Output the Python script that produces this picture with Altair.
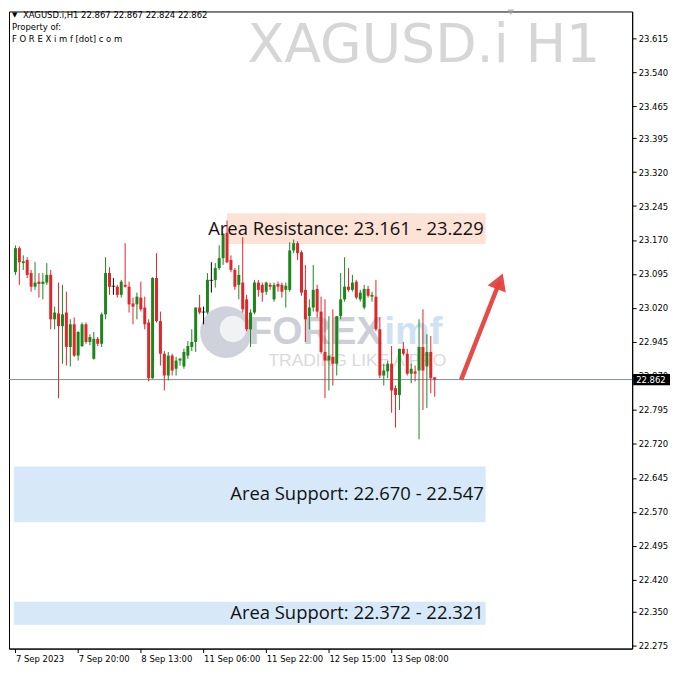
import altair as alt
import pandas as pd

# ---------------- data ----------------
opens = [23.099, 23.152, 23.119, 23.126, 23.097, 23.067, 23.078, 23.073, 23.076, 23.093,
         22.995, 23.008, 22.980, 23.010, 22.934, 22.984, 22.915, 22.936, 22.984, 22.945,
         22.908, 22.952, 22.941, 23.006, 23.097, 23.068, 23.067, 23.049, 23.071, 23.067,
         23.030, 23.028, 23.043, 23.021, 22.988, 22.865, 23.086, 22.991, 22.919, 22.871,
         22.915, 22.886, 22.904, 22.891, 22.915, 22.934, 22.945, 23.021, 23.011, 23.010,
         23.081, 23.082, 23.108, 23.130, 23.186, 23.126, 23.104, 23.071, 23.076, 23.039,
         22.973, 23.010, 23.076, 23.071, 23.056, 23.071, 23.039, 23.073, 23.071, 23.060,
         23.060, 23.147, 23.163, 23.143, 23.060, 23.002, 23.021, 23.062, 23.012, 22.923,
         22.904, 22.912, 22.897, 23.002, 23.039, 23.067, 23.060, 23.078, 23.039, 23.021,
         23.062, 23.045, 23.045, 22.973, 22.871, 22.880, 22.897, 22.843, 22.828, 22.930,
         22.919, 22.875, 22.880, 22.882, 22.934, 22.891, 22.923, 22.867]
highs = [23.158, 23.156, 23.136, 23.132, 23.104, 23.121, 23.097, 23.097, 23.119, 23.104,
         23.023, 23.076, 23.071, 23.056, 22.995, 22.999, 22.969, 22.988, 22.988, 22.962,
         22.967, 22.956, 23.010, 23.132, 23.110, 23.086, 23.071, 23.082, 23.163, 23.078,
         23.043, 23.054, 23.078, 23.045, 22.995, 23.088, 23.141, 23.012, 22.925, 22.923,
         22.919, 22.912, 22.910, 22.930, 22.947, 22.973, 23.021, 23.049, 23.023, 23.097,
         23.121, 23.119, 23.158, 23.184, 23.213, 23.136, 23.108, 23.115, 23.176, 23.049,
         23.017, 23.082, 23.082, 23.076, 23.078, 23.076, 23.076, 23.078, 23.076, 23.076,
         23.165, 23.171, 23.167, 23.147, 23.115, 23.039, 23.115, 23.071, 23.045, 23.039,
         23.002, 23.017, 23.002, 23.097, 23.132, 23.108, 23.093, 23.082, 23.060, 23.071,
         23.069, 23.056, 23.082, 22.999, 22.897, 22.904, 22.936, 22.849, 22.930, 22.945,
         22.930, 22.897, 22.893, 22.995, 23.017, 22.962, 22.958, 22.867]
lows = [23.093, 23.071, 23.104, 23.086, 23.056, 23.060, 23.043, 23.039, 23.071, 22.973,
        22.973, 22.821, 22.897, 22.893, 22.891, 22.912, 22.904, 22.934, 22.941, 22.938,
        22.906, 22.936, 22.934, 22.995, 23.049, 23.049, 23.043, 23.043, 23.065, 23.010,
        22.984, 22.995, 23.012, 22.973, 22.858, 22.864, 22.988, 22.893, 22.838, 22.860,
        22.871, 22.871, 22.893, 22.886, 22.908, 22.925, 22.923, 23.006, 22.984, 23.006,
        23.054, 23.065, 23.104, 23.115, 23.119, 23.099, 23.060, 23.039, 23.010, 22.969,
        22.934, 23.006, 23.045, 23.034, 23.049, 23.060, 23.034, 23.056, 23.043, 23.021,
        23.056, 23.141, 23.126, 23.047, 22.945, 22.973, 23.012, 22.999, 22.919, 22.821,
        22.838, 22.849, 22.871, 22.995, 23.034, 23.056, 23.056, 23.039, 23.034, 23.017,
        23.043, 23.034, 22.969, 22.865, 22.849, 22.865, 22.789, 22.756, 22.795, 22.915,
        22.871, 22.854, 22.858, 22.730, 22.795, 22.799, 22.832, 22.824]
closes = [23.152, 23.121, 23.123, 23.093, 23.067, 23.076, 23.073, 23.078, 23.093, 22.995,
          23.010, 22.980, 23.006, 22.934, 22.984, 22.915, 22.967, 22.984, 22.945, 22.956,
          22.952, 22.941, 23.006, 23.097, 23.067, 23.068, 23.049, 23.078, 23.067, 23.028,
          23.023, 23.045, 23.017, 22.984, 22.865, 23.086, 22.991, 22.919, 22.871, 22.915,
          22.882, 22.904, 22.908, 22.923, 22.936, 22.945, 23.021, 23.010, 23.011, 23.082,
          23.081, 23.108, 23.130, 23.184, 23.121, 23.104, 23.067, 23.093, 23.017, 22.973,
          23.010, 23.076, 23.060, 23.054, 23.076, 23.067, 23.071, 23.067, 23.056, 23.069,
          23.147, 23.163, 23.141, 23.054, 22.995, 23.021, 23.060, 23.012, 22.923, 22.904,
          22.915, 22.897, 23.002, 23.039, 23.067, 23.060, 23.076, 23.043, 23.054, 23.062,
          23.047, 23.049, 22.973, 22.871, 22.882, 22.897, 22.838, 22.828, 22.930, 22.919,
          22.875, 22.886, 22.875, 22.934, 22.882, 22.923, 22.865, 22.862]

tick_idx = [0, 16, 32, 48, 64, 80, 96]
tick_labels = ["7 Sep 2023", "7 Sep 20:00", "8 Sep 13:00", "11 Sep 06:00",
               "11 Sep 22:00", "12 Sep 15:00", "13 Sep 08:00"]

price_ticks = [23.615, 23.540, 23.465, 23.395, 23.320, 23.245, 23.170, 23.095, 23.020,
               22.945, 22.870, 22.795, 22.720, 22.645, 22.570, 22.495, 22.420, 22.350, 22.275]

zone_labels = ["Area Resistance: 23.161 - 23.229",
               "Area Support: 22.670 - 22.547",
               "Area Support: 22.372 - 22.321"]
zone_low = [23.161, 22.547, 22.321]
zone_high = [23.229, 22.670, 22.372]
zone_start = [54, -0.375, -0.375]
zone_end = [120, 120, 120]
zone_colors = ["#fde3d5", "#d7e9f9", "#d7e9f9"]

last_price = 22.862
header = "XAGUSD.i,H1  22.867 22.867 22.824 22.862"

arrow_x = [113.75, 123.6]
arrow_y = [22.862, 23.079]
arrow_head_x = [123.6]
arrow_head_y = [23.079]

# ---------------- frames ----------------
def direction(o, c):
    if c > o:
        return "up"
    if c < o:
        return "down"
    return "doji"

candles = pd.DataFrame({
    "idx": list(range(len(opens))),
    "open": opens, "high": highs, "low": lows, "close": closes,
})
candles["dir"] = [direction(o, c) for o, c in zip(opens, closes)]

zones = pd.DataFrame({"x1": zone_start, "x2": zone_end, "lo": zone_low,
                      "hi": zone_high, "col": zone_colors, "label": zone_labels})
zones["mid"] = (zones["lo"] + zones["hi"]) / 2

price_df = pd.DataFrame({"price": [last_price], "lo": [last_price - 0.0125],
                         "hi": [last_price + 0.0125], "txt": [f"{last_price:.3f}"]})
arrow_df = pd.DataFrame({"x": arrow_x, "y": arrow_y})
head_df = pd.DataFrame({"x": arrow_head_x, "y": arrow_head_y})
one = pd.DataFrame({"a": [0]})

W, H = 626, 640
xs = alt.Scale(domain=[-0.375, 156.125], nice=False, zero=False)
ys = alt.Scale(domain=[22.2684, 23.6743], nice=False, zero=False)

label_expr = ("[" + ",".join(f"'{t}'" for t in tick_labels) + "][indexof(["
              + ",".join(str(i) for i in tick_idx) + "], datum.value)]")

x_axis = alt.Axis(values=tick_idx, labelExpr=label_expr, title=None, grid=False,
                  labelAlign="left", labelFont="DejaVu Sans", labelFontSize=8.5,
                  labelColor="black", tickColor="black", tickSize=4, domainColor="black",
                  labelPadding=2, labelOverlap=False, labelFlush=False)
y_axis = alt.Axis(orient="right", values=price_ticks, format=".3f", title=None, grid=False,
                  labelFont="DejaVu Sans", labelFontSize=8.5, labelColor="black",
                  tickColor="black", tickSize=4, domainColor="black", labelPadding=2,
                  labelOverlap=False, labelFlush=False)


def X(field):
    return alt.X(field, scale=xs, axis=x_axis)


def Y(field):
    return alt.Y(field, scale=ys, axis=y_axis)


zone_rect = alt.Chart(zones).mark_rect().encode(
    x=X("x1:Q"), x2="x2:Q", y=Y("lo:Q"), y2="hi:Q",
    color=alt.Color("col:N", scale=None),
)

# watermark texts
wm_title = alt.Chart(one).mark_text(text="XAGUSD.i H1", font="DejaVu Sans", fontSize=54,
                                    color="#d6d6d6", align="right", baseline="middle").encode(
    x=alt.value(594), y=alt.value(35))
logo_circle = alt.Chart(one).mark_point(shape="circle", filled=True, size=2700,
                                        color="#cfd2da", opacity=1).encode(
    x=alt.value(218), y=alt.value(322))
logo_inner = alt.Chart(one).mark_point(shape="circle", filled=True, size=700,
                                       color="white").encode(
    x=alt.value(225), y=alt.value(319))
wm_forex = alt.Chart(one).mark_text(text="FOREX", font="Liberation Sans",
                                    fontSize=39, fontWeight="bold", color="#cdcfd7",
                                    align="right", baseline="middle").encode(
    x=alt.value(375), y=alt.value(322))
wm_imf = alt.Chart(one).mark_text(text="imf", font="Liberation Sans",
                                  fontSize=39, fontWeight="bold", color="#cfe2f3",
                                  align="left", baseline="middle").encode(
    x=alt.value(377), y=alt.value(322))
wm_tag = alt.Chart(one).mark_text(text="TRADING LIKE A PRO", font="Liberation Sans",
                                  fontSize=17.5, color="#dadada", align="center",
                                  baseline="middle").encode(
    x=alt.value(350), y=alt.value(351))

price_line = alt.Chart(price_df).mark_rule(color="#7f8c9c", strokeWidth=1).encode(
    y=Y("price:Q"))

color_scale = alt.Scale(domain=["up", "down", "doji"], range=["#1c861c", "#e0262a", "#000000"])

wicks = alt.Chart(candles).mark_rule(strokeWidth=1).encode(
    x=X("idx:Q"), y=Y("low:Q"), y2="high:Q",
    color=alt.Color("dir:N", scale=color_scale, legend=None),
)
bodies = alt.Chart(candles).transform_filter("datum.dir != 'doji'").mark_bar(size=3).encode(
    x=X("idx:Q"), y=Y("open:Q"), y2="close:Q",
    color=alt.Color("dir:N", scale=color_scale, legend=None),
)
dojis = alt.Chart(candles).transform_filter("datum.dir == 'doji'").mark_tick(
    orient="horizontal", size=4, thickness=1, color="black").encode(
    x=X("idx:Q"), y=Y("close:Q"),
)

zone_text = alt.Chart(zones).mark_text(font="Open Sans", fontSize=18.5, color="#111111",
                                       align="right", baseline="middle").encode(
    x=alt.value(477), y=Y("mid:Q"), text="label:N",
)

arrow_line = alt.Chart(arrow_df).mark_line(color="#e2423f", strokeWidth=4.5, opacity=0.95,
                                           strokeCap="butt").encode(
    x=X("x:Q"), y=Y("y:Q"),
)
arrow_head = alt.Chart(head_df).mark_point(shape="triangle-up", filled=True, size=380,
                                           angle=21, color="#e2423f", opacity=0.95).encode(
    x=X("x:Q"), y=Y("y:Q"),
)

price_box = alt.Chart(price_df).mark_rect(color="black").encode(
    y=Y("lo:Q"), y2="hi:Q", x=alt.value(627), x2=alt.value(664))
price_txt = alt.Chart(price_df).mark_text(color="white", font="DejaVu Sans", fontSize=8.5,
                                          align="left", baseline="middle").encode(
    y=Y("price:Q"), x=alt.value(630), text="txt:N")

hdr_tri = alt.Chart(one).mark_text(text="▼", font="DejaVu Sans", fontSize=7, color="black",
                                   align="left", baseline="middle").encode(
    x=alt.value(3), y=alt.value(4))
hdr_1 = alt.Chart(one).mark_text(text=header, font="DejaVu Sans", fontSize=8.5, color="black",
                                 align="left", baseline="middle").encode(
    x=alt.value(14), y=alt.value(4))
hdr_2 = alt.Chart(one).mark_text(text="Property of:", font="DejaVu Sans", fontSize=8.5,
                                 color="black", align="left", baseline="middle").encode(
    x=alt.value(3), y=alt.value(16))
hdr_3 = alt.Chart(one).mark_text(text="F O R E X i m f [dot] c o m", font="DejaVu Sans",
                                 fontSize=8.5, color="black", align="left",
                                 baseline="middle").encode(
    x=alt.value(3), y=alt.value(28))
shift_marker = alt.Chart(one).mark_point(shape="triangle-down", filled=True, size=45,
                                         color="#a0a0a0").encode(
    x=alt.value(504), y=alt.value(1))

chart = alt.layer(
    zone_rect, wm_title, logo_circle, logo_inner, wm_forex, wm_imf, wm_tag,
    price_line, wicks, bodies, dojis, zone_text, arrow_line, arrow_head,
    price_box, price_txt, hdr_tri, hdr_1, hdr_2, hdr_3, shift_marker,
).properties(width=W, height=H, padding=0, background="white").configure_view(
    stroke="black", strokeWidth=1)

chart.save("out.html", embed_options={"renderer": "svg", "actions": False})
